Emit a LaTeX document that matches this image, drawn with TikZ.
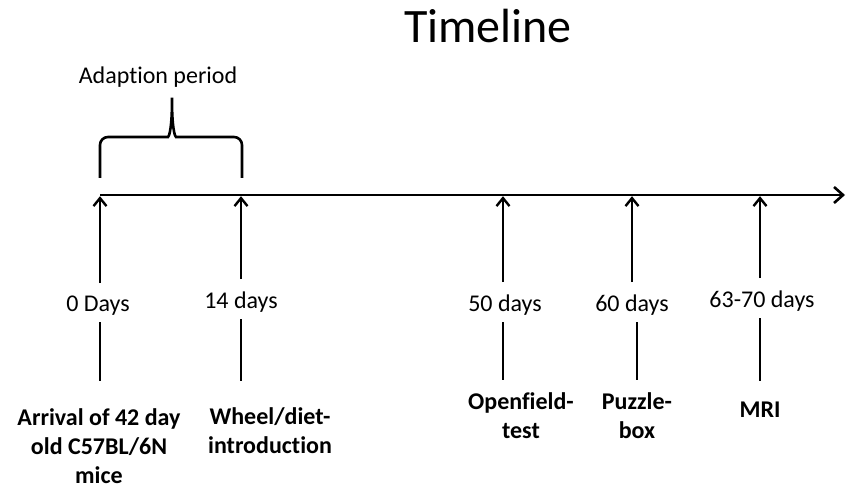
\documentclass[tikz,border=0pt]{standalone}
\usepackage{fontspec}
\setmainfont{Carlito}[Ligatures=NoCommon]
\usetikzlibrary{arrows.meta}

\tikzset{
	axis/.style={line width=2.6pt,-{Straight Barb[length=9pt,width=16pt,line width=2.6pt]}},
	tick/.style={line width=2.6pt,-{Straight Barb[length=8pt,width=13pt,line width=2.4pt]},shorten <=13pt,shorten >=1.2pt},
	stem/.style={line width=2.6pt,shorten <=6pt,shorten >=#1},
	day/.style={anchor=base,inner sep=0pt,font=\fontsize{24}{29}\selectfont},
	event/.style={anchor=north,inner sep=0pt,align=center,font=\fontsize{24}{29}\selectfont\bfseries}
}

\begin{document}
\begin{tikzpicture}[x=1pt,y=-1pt]
	\useasboundingbox (0,0) rectangle (847,486);
	\node[anchor=base,inner sep=0pt,font=\fontsize{48}{56}\selectfont] (title) at (488,43) {Timeline};
	\node[anchor=base,inner sep=0pt,font=\fontsize{24}{29}\selectfont] (adapt) at (158,84) {Adaption period};
	\draw[line width=2.6pt,rounded corners=8pt] (100,178) -- (100,137) -- (160,137)
		.. controls (169,137) and (172,128) .. (172,93)
		.. controls (172,128) and (175,137) .. (184,137) -- (242,137) -- (242,178);
	\coordinate (t0) at (100,195);
	\coordinate (t1) at (241,195);
	\coordinate (t2) at (503,195);
	\coordinate (t3) at (632,195);
	\coordinate (t4) at (760,195);
	\coordinate (tend) at (845,195);
	\draw[axis] (t0) -- (tend);
	\node[day] (d0) at (98,312) {0 Days};
	\node[day] (d1) at (241,309) {14 days};
	\node[day] (d2) at (505,312) {50 days};
	\node[day] (d3) at (632,312) {60 days};
	\node[day] (d4) at (762,308) {63-70 days};
	\draw[tick] (d0.north -| t0) -- (t0);
	\draw[tick] (d1.north -| t1) -- (t1);
	\draw[tick] (d2.north -| t2) -- (t2);
	\draw[tick] (d3.north -| t3) -- (t3);
	\draw[tick] (d4.north -| t4) -- (t4);
	\node[event] (e0) at (99,408) {Arrival of 42 day\\old C57BL/6N\\mice};
	\node[event] (e1) at (270,407) {Wheel/diet-\\introduction};
	\node[event] (e2) at (521,392) {Openfield-\\test};
	\node[event] (e3) at (637,392) {Puzzle-\\box};
	\node[event] (e4) at (760,402) {MRI};
	\draw[stem=27pt] (d0.south -| t0) -- (e0.north -| t0);
	\draw[stem=26pt] (d1.south -| t1) -- (e1.north -| t1);
	\draw[stem=12pt] (d2.south -| t2) -- (e2.north -| t2);
	\draw[stem=12pt] (d3.south -| e3) -- (e3.north);
	\draw[stem=21pt] (d4.south -| t4) -- (e4.north -| t4);
\end{tikzpicture}
\end{document}
